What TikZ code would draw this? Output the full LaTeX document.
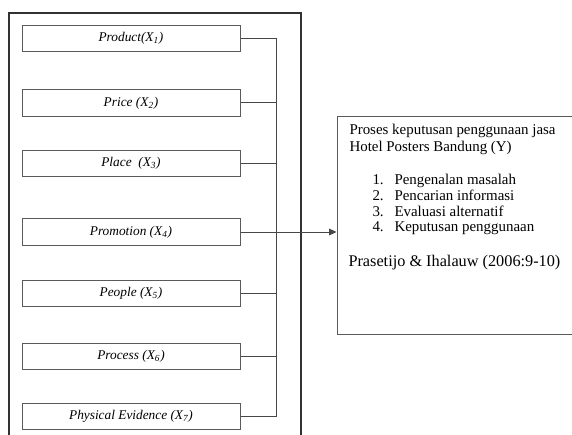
\documentclass[tikz,border=0pt]{standalone}
\usepackage{fontspec}
\setmainfont{Liberation Serif}
\usetikzlibrary{arrows.meta}

\tikzset{every picture/.style={line width=0.75pt}}
\tikzset{
  varbox/.style={draw={rgb,255:red,90;green,90;blue,90},minimum width=163.5pt,minimum height=20pt,inner sep=0pt,font=\fontsize{10}{12}\selectfont\itshape},
  link/.style={draw={rgb,255:red,70;green,70;blue,70},line width=0.75pt},
  boxtext/.style={anchor=base west,inner sep=0pt,font=\fontsize{11.2}{13}\selectfont}
}

\begin{document}
\begin{tikzpicture}[x=0.75pt,y=0.75pt,yscale=-1,xscale=1]
\useasboundingbox (0,0) rectangle (572,435);

%Outer frame
\draw [color={rgb, 255:red, 50; green, 50; blue, 50 }][line width=1.9pt]  (9,440) -- (9,13) -- (301,13) -- (301,440) ;

%Shape: Rectangle (variables)
\node [varbox] (product) at (131,38.5) {Product(X\textsubscript{1})};
\node [varbox] (price) at (131,103) {Price (X\textsubscript{2})};
\node [varbox] (place) at (131,163.5) {Place\ \ (X\textsubscript{3})};
\node [varbox] (promotion) at (131,232) {Promotion (X\textsubscript{4})};
\node [varbox] (people) at (131,293.5) {People (X\textsubscript{5})};
\node [varbox] (process) at (131,356.5) {Process\ (X\textsubscript{6})};
\node [varbox] (physical) at (131,416.5) {Physical Evidence (X\textsubscript{7})};

%Shape: Rectangle (result)
\node [draw={rgb,255:red,90;green,90;blue,90},minimum width=183pt,minimum height=163pt,inner sep=0pt] (result) at (459,225.5) {};

%Straight Lines (bus)
\coordinate (bustop) at (276,38.5);
\coordinate (busbot) at (276,416.5);
\draw [link] (product.east) -- (bustop) -- (busbot) -- (physical.east) ;
\draw [link] (price.east) -- (price.east -| bustop) ;
\draw [link] (place.east) -- (place.east -| bustop) ;
\draw [link] (people.east) -- (people.east -| bustop) ;
\draw [link] (process.east) -- (process.east -| bustop) ;
\draw [link,-{Triangle[length=5.5pt,width=5pt]}] (promotion.east) -- (promotion.east -| result.west) ;

% Text Node
\node [boxtext] (title1) at (349,135) {Proses keputusan penggunaan jasa};
% Text Node
\node [boxtext] (title2) at (349,151.5) {Hotel Posters Bandung (Y)};
% Text Node
\node [boxtext] (n1) at (372,185) {1.};
\node [boxtext] (i1) at (394,185) {Pengenalan masalah};
\node [boxtext] (n2) at (372,200.5) {2.};
\node [boxtext] (i2) at (394,200.5) {Pencarian informasi};
\node [boxtext] (n3) at (372,216) {3.};
\node [boxtext] (i3) at (394,216) {Evaluasi alternatif};
\node [boxtext] (n4) at (372,231.5) {4.};
\node [boxtext] (i4) at (394,231.5) {Keputusan penggunaan};
% Text Node
\node [boxtext,font=\fontsize{12.2}{14}\selectfont] (source) at (348,267) {Prasetijo \& Ihalauw (2006:9-10)};

\end{tikzpicture}
\end{document}
